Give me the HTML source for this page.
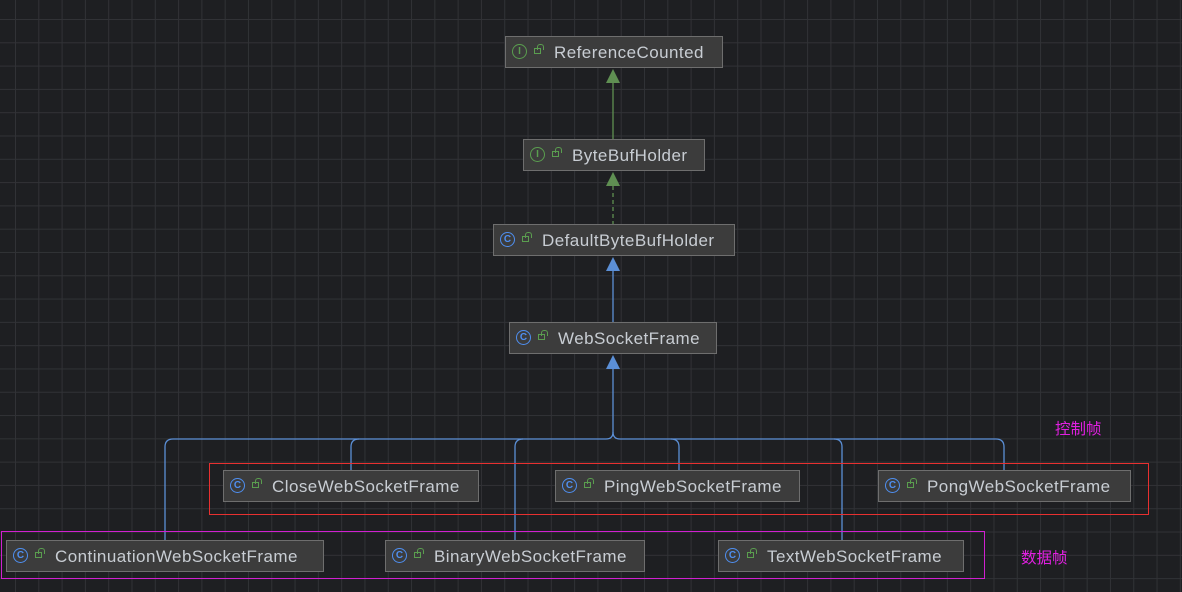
<!DOCTYPE html>
<html><head><meta charset="utf-8"><style>
body{margin:0;width:1182px;height:592px;overflow:hidden;background:#1e1f22;
background-image:linear-gradient(#313236 1px,transparent 1px),linear-gradient(90deg,#313236 1px,transparent 1px);
background-size:23.3px 23.3px;background-position:15px 19px;font-family:"Liberation Sans","Noto Sans CJK SC",sans-serif;position:relative}
.n{position:absolute;height:30px;background:#3c3c3c;border:1px solid #6e6e6e;color:#c8cdd3;font-size:17px;letter-spacing:0.45px;line-height:32px;box-sizing:content-box}
.ic{position:absolute;top:7px;left:6px;width:13px;height:13px;border-radius:50%;border:1.5px solid #4f8ff0;color:#4f8ff0;font-size:10px;line-height:13px;text-align:center;font-weight:bold;letter-spacing:0}
.ic.i{border-color:#5a9e4f;color:#5a9e4f}
.lk{position:absolute;top:11px;left:28px;width:7px;height:6px;border:1.5px solid #5a9e4f;box-sizing:border-box}
.lk:before{content:"";position:absolute;left:2px;top:-5px;width:5px;height:5px;border:1.5px solid #5a9e4f;border-bottom:none;border-radius:3px 3px 0 0}
.t{position:absolute;left:48px;top:0}
.lab{position:absolute;color:#e020e0;font-size:15.5px}
</style></head><body>
<svg width="1182" height="592" style="position:absolute;left:0;top:0">
<g fill="none" stroke-width="1.3">
<line x1="613" y1="82" x2="613" y2="139" stroke="#5f8f52"/>
<line x1="613" y1="186" x2="613" y2="224" stroke="#5f8f52" stroke-dasharray="4,3"/>
<line x1="613" y1="270" x2="613" y2="322" stroke="#5b8fd6"/>
<g stroke="#5b8fd6">
<line x1="613" y1="368" x2="613" y2="432"/>
<path d="M613 432 Q613 439 606 439 H173 Q165 439 165 447 V540"/>
<path d="M613 432 Q613 439 620 439 H996 Q1004 439 1004 447 V470"/>
<path d="M351 470 V447 Q351 439 359 439"/>
<path d="M515 540 V447 Q515 439 523 439"/>
<path d="M679 470 V447 Q679 439 671 439"/>
<path d="M842 540 V447 Q842 439 834 439"/>
</g></g>
<polygon points="613,69 606,83 620,83" fill="#5f8f52"/>
<polygon points="613,172 606,186 620,186" fill="#5f8f52"/>
<polygon points="613,257 606,271 620,271" fill="#5b8fd6"/>
<polygon points="613,355 606,369 620,369" fill="#5b8fd6"/>
<rect x="209.5" y="463.5" width="939" height="51" fill="none" stroke="#e83030"/>
<rect x="1.5" y="531.5" width="983" height="47" fill="none" stroke="#d020d0"/>
</svg>
<div class="n" style="left:505px;top:36px;width:216px"><span class="ic i">I</span><span class="lk"></span><span class="t">ReferenceCounted</span></div>
<div class="n" style="left:523px;top:139px;width:180px"><span class="ic i">I</span><span class="lk"></span><span class="t">ByteBufHolder</span></div>
<div class="n" style="left:493px;top:224px;width:240px"><span class="ic">C</span><span class="lk"></span><span class="t">DefaultByteBufHolder</span></div>
<div class="n" style="left:509px;top:322px;width:206px"><span class="ic">C</span><span class="lk"></span><span class="t">WebSocketFrame</span></div>
<div class="n" style="left:223px;top:470px;width:254px"><span class="ic">C</span><span class="lk"></span><span class="t">CloseWebSocketFrame</span></div>
<div class="n" style="left:555px;top:470px;width:243px"><span class="ic">C</span><span class="lk"></span><span class="t">PingWebSocketFrame</span></div>
<div class="n" style="left:878px;top:470px;width:251px"><span class="ic">C</span><span class="lk"></span><span class="t">PongWebSocketFrame</span></div>
<div class="n" style="left:6px;top:540px;width:316px"><span class="ic">C</span><span class="lk"></span><span class="t">ContinuationWebSocketFrame</span></div>
<div class="n" style="left:385px;top:540px;width:258px"><span class="ic">C</span><span class="lk"></span><span class="t">BinaryWebSocketFrame</span></div>
<div class="n" style="left:718px;top:540px;width:244px"><span class="ic">C</span><span class="lk"></span><span class="t">TextWebSocketFrame</span></div>
<div class="lab" style="left:1055px;top:417px">控制帧</div>
<div class="lab" style="left:1021px;top:546px">数据帧</div>
</body></html>
